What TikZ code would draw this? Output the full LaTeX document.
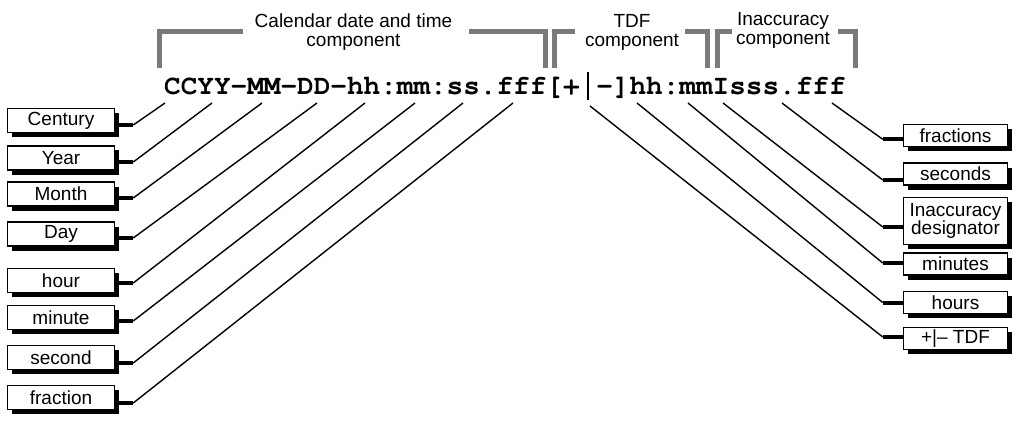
\documentclass[tikz,border=0pt]{standalone}
\usepackage{fontspec}
\setmainfont{Liberation Sans}
\newfontfamily\codefont[Ligatures={NoCommon,NoRequired,NoContextual}]{TeX Gyre Cursor}
\usetikzlibrary{shadows}
\definecolor{brkgray}{gray}{0.48}
\begin{document}
\begin{tikzpicture}[x=1pt,y=-1pt,
  lbl/.style={draw=black, line width=1.5pt, fill=white, inner sep=0pt, align=center,
    font=\fontsize{19}{15}\selectfont,
    drop shadow={shadow xshift=4.5pt, shadow yshift=-4.5pt, fill=black, opacity=1}},
  lbox/.style={lbl, minimum width=107pt, minimum height=24pt},
  rbox/.style={lbl, minimum width=104pt, minimum height=22pt},
  stub/.style={line width=4pt},
  lead/.style={line width=1.4pt},
  brk/.style={line width=5pt, draw=brkgray},
  hdr/.style={align=center, font=\fontsize{19}{19}\selectfont, inner sep=0pt}
]
\useasboundingbox (0,0) rectangle (1020,425);

% header brackets
\draw[brk] (159,68) -- (159,32) -- (243,32);
\draw[brk] (469,32) -- (545,32) -- (545,68);
\draw[brk] (554.5,68) -- (554.5,32) -- (575,32);
\draw[brk] (685,32) -- (707.5,32) -- (707.5,68);
\draw[brk] (717.5,68) -- (717.5,32) -- (732,32);
\draw[brk] (838,32) -- (855,32) -- (855,68);

\node[hdr] (hcal) at (353.5,32.5) {Calendar date and time\\component};
\node[hdr] (htdf) at (632,32.5) {TDF\\component};
\node[hdr] (hinacc) at (783,30.5) {Inaccuracy\\component};

% format string
\node[anchor=base west, inner sep=0pt, font=\codefont\bfseries\fontsize{27.7}{30}\selectfont]
  (fmt) at (164,95) {CCYY-MM-DD-hh:mm:ss.f{}f{}f[+\hphantom{-}-]hh:mmIsss.f{}f{}f};
\coordinate (barTop) at (588,72);
\coordinate (barBot) at (588,100);
\draw[line width=1.3pt] (barTop) -- (barBot);

% character anchor points
\coordinate (tCentury) at (165,103);
\coordinate (tYear) at (212,103);
\coordinate (tMonth) at (262,103);
\coordinate (tDay) at (317,103);
\coordinate (tHour) at (365,103);
\coordinate (tMinute) at (415,103);
\coordinate (tSecond) at (463,103);
\coordinate (tFraction) at (513,103);
\coordinate (tTdf) at (590,106);
\coordinate (tHours) at (637,103);
\coordinate (tMinutes) at (688,103);
\coordinate (tInacc) at (723,103);
\coordinate (tSeconds) at (782,103);
\coordinate (tFractions) at (832,103);

% left boxes
\node[lbox] (century) at (61,120.5) {Century};
\node[lbox] (year) at (61,158) {Year};
\node[lbox] (month) at (61,194) {Month};
\node[lbox] (day) at (61,234) {Day};
\node[lbox] (hour) at (61,280.5) {hour};
\node[lbox] (minute) at (61,317.5) {minute};
\node[lbox] (second) at (61,357.5) {second};
\node[lbox] (fraction) at (61,397.5) {fraction};

% right boxes
\node[rbox] (fractions) at (955.5,135.5) {fractions};
\node[rbox] (seconds) at (955.5,174) {seconds};
\node[rbox, minimum height=47pt] (inacc) at (955.5,221) {Inaccuracy\\designator};
\node[rbox] (minutes) at (955.5,264) {minutes};
\node[rbox] (hours) at (955.5,302.5) {hours};
\node[rbox] (tdf) at (955.5,338.5) {+|– TDF};

% left connectors
\draw[stub] ([yshift=-4.5pt]century.east) -- ++(18,0) coordinate (jCentury);
\draw[lead] (jCentury) -- (tCentury);
\draw[stub] ([yshift=-4pt]year.east) -- ++(18,0) coordinate (jYear);
\draw[lead] (jYear) -- (tYear);
\draw[stub] ([yshift=-4pt]month.east) -- ++(18,0) coordinate (jMonth);
\draw[lead] (jMonth) -- (tMonth);
\draw[stub] ([yshift=-4pt]day.east) -- ++(18,0) coordinate (jDay);
\draw[lead] (jDay) -- (tDay);
\draw[stub] ([yshift=-2.5pt]hour.east) -- ++(18,0) coordinate (jHour);
\draw[lead] (jHour) -- (tHour);
\draw[stub] ([yshift=-3.5pt]minute.east) -- ++(18,0) coordinate (jMinute);
\draw[lead] (jMinute) -- (tMinute);
\draw[stub] ([yshift=-5.5pt]second.east) -- ++(18,0) coordinate (jSecond);
\draw[lead] (jSecond) -- (tSecond);
\draw[stub] ([yshift=-5.5pt]fraction.east) -- ++(18,0) coordinate (jFraction);
\draw[lead] (jFraction) -- (tFraction);

% right connectors
\draw[stub] ([yshift=-3.8pt]fractions.west) -- ++(-20,0) coordinate (jFractions);
\draw[lead] (jFractions) -- (tFractions);
\draw[stub] ([yshift=-6pt]seconds.west) -- ++(-20,0) coordinate (jSeconds);
\draw[lead] (jSeconds) -- (tSeconds);
\draw[stub] ([yshift=-6pt]inacc.west) -- ++(-20,0) coordinate (jInacc);
\draw[lead] (jInacc) -- (tInacc);
\draw[stub] ([yshift=1pt]minutes.west) -- ++(-20,0) coordinate (jMinutes);
\draw[lead] (jMinutes) -- (tMinutes);
\draw[stub] (hours.west) -- ++(-20,0) coordinate (jHours);
\draw[lead] (jHours) -- (tHours);
\draw[stub] ([yshift=1.5pt]tdf.west) -- ++(-20,0) coordinate (jTdf);
\draw[lead] (jTdf) -- (tTdf);
\end{tikzpicture}
\end{document}
